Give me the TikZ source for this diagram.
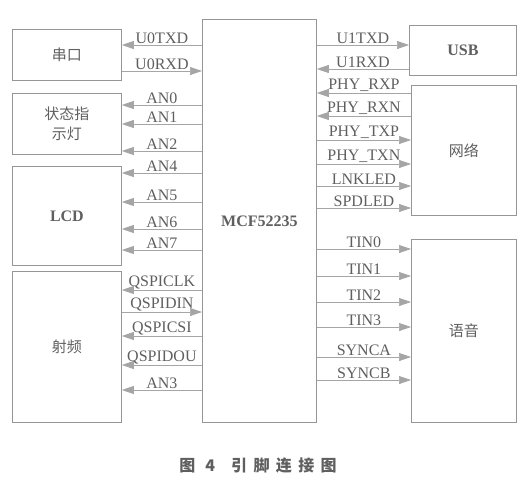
\documentclass[tikz,border=0pt]{standalone}
\usepackage{fontspec}
\setmainfont{Liberation Serif}
\newfontfamily\cjk{Noto Sans CJK SC}
\newfontfamily\capcjk[LetterSpace=40]{Noto Sans CJK SC}
\usetikzlibrary{arrows.meta,positioning}
\definecolor{boxgray}{RGB}{150,150,150}
\definecolor{wiregray}{RGB}{165,165,165}
\definecolor{inkgray}{RGB}{95,95,95}
\tikzset{
     blk/.style    = {draw=boxgray, line width=0.8pt, anchor=north west, align=center, text=inkgray, inner sep=0pt},
     cnblk/.style  = {blk, font=\cjk\fontsize{15}{20}\selectfont},
     enblk/.style  = {blk, font=\bfseries\fontsize{16}{18}\selectfont},
     sigline/.style = {wiregray, line width=0.7pt, -{Triangle[length=12pt,width=8pt]}},
     signame/.style = {midway, above, inner sep=1pt, text=inkgray, font=\fontsize{16}{18}\selectfont},
    }

\begin{document}
\begin{tikzpicture}[x=1pt,y=-1pt]
        \useasboundingbox (0,0) rectangle (532,493);

        % left side blocks
        \node [cnblk, minimum width=109pt, minimum height=51pt]  (uart) at (12,29)  {串口};
        \node [cnblk, minimum width=109pt, minimum height=61pt]  (led)  at (12,93)  {状态指\\示灯};
        \node [enblk, minimum width=109pt, minimum height=99pt]  (lcd)  at (12,166) {LCD};
        \node [cnblk, minimum width=109pt, minimum height=151pt] (rf)   at (12,271) {射频};
        % controller
        \node [enblk, minimum width=114pt, minimum height=403pt] (mcu)  at (202,19) {MCF52235};
        % right side blocks
        \node [enblk, minimum width=107pt, minimum height=50pt]  (usb)  at (409,25)  {USB};
        \node [cnblk, minimum width=105pt, minimum height=130pt] (net)  at (411,85)  {网络};
        \node [cnblk, minimum width=105pt, minimum height=183pt] (voice) at (411,239) {语音};

        \path
        (mcu.west |- 0,45)   edge [sigline] node [signame] {U0TXD}   (uart.east |- 0,45)
        (uart.east |- 0,71)  edge [sigline] node [signame] {U0RXD}   (mcu.west |- 0,71)
        (mcu.west |- 0,105)  edge [sigline] node [signame] {AN0}     (led.east |- 0,105)
        (mcu.west |- 0,124)  edge [sigline] node [signame] {AN1}     (led.east |- 0,124)
        (mcu.west |- 0,151)  edge [sigline] node [signame] {AN2}     (led.east |- 0,151)
        (mcu.west |- 0,173)  edge [sigline] node [signame] {AN4}     (lcd.east |- 0,173)
        (mcu.west |- 0,202)  edge [sigline] node [signame] {AN5}     (lcd.east |- 0,202)
        (mcu.west |- 0,229)  edge [sigline] node [signame] {AN6}     (lcd.east |- 0,229)
        (mcu.west |- 0,250)  edge [sigline] node [signame] {AN7}     (lcd.east |- 0,250)
        (mcu.west |- 0,290)  edge [sigline] node [signame] {QSPICLK} (rf.east |- 0,290)
        (rf.east |- 0,312)   edge [sigline] node [signame] {QSPIDIN} (mcu.west |- 0,312)
        (mcu.west |- 0,336)  edge [sigline] node [signame] {QSPICSI} (rf.east |- 0,336)
        (mcu.west |- 0,365)  edge [sigline] node [signame] {QSPIDOU} (rf.east |- 0,365)
        (mcu.west |- 0,390)  edge [sigline] node [signame] {AN3}     (rf.east |- 0,390);

        \path
        (mcu.east |- 0,45)   edge [sigline] node [signame] {U1TXD}   (usb.west |- 0,45)
        (usb.west |- 0,69)   edge [sigline] node [signame] {U1RXD}   (mcu.east |- 0,69)
        (net.west |- 0,93)   edge [sigline] node [signame] {PHY\_RXP} (mcu.east |- 0,93)
        (net.west |- 0,116)  edge [sigline] node [signame] {PHY\_RXN} (mcu.east |- 0,116)
        (mcu.east |- 0,140)  edge [sigline] node [signame] {PHY\_TXP} (net.west |- 0,140)
        (mcu.east |- 0,164)  edge [sigline] node [signame] {PHY\_TXN} (net.west |- 0,164)
        (mcu.east |- 0,186)  edge [sigline] node [signame] {LNKLED}  (net.west |- 0,186)
        (mcu.east |- 0,208)  edge [sigline] node [signame] {SPDLED}  (net.west |- 0,208)
        (mcu.east |- 0,249)  edge [sigline] node [signame] {TIN0}    (voice.west |- 0,249)
        (mcu.east |- 0,276)  edge [sigline] node [signame] {TIN1}    (voice.west |- 0,276)
        (mcu.east |- 0,302)  edge [sigline] node [signame] {TIN2}    (voice.west |- 0,302)
        (mcu.east |- 0,327)  edge [sigline] node [signame] {TIN3}    (voice.west |- 0,327)
        (mcu.east |- 0,357)  edge [sigline] node [signame] {SYNCA}   (voice.west |- 0,357)
        (mcu.east |- 0,380)  edge [sigline] node [signame] {SYNCB}   (voice.west |- 0,380);

        \node [text=inkgray, font=\capcjk\bfseries\fontsize{16}{18}\selectfont] (caption) at (258,465) {图 4\quad 引脚连接图};
    \end{tikzpicture}
\end{document}
